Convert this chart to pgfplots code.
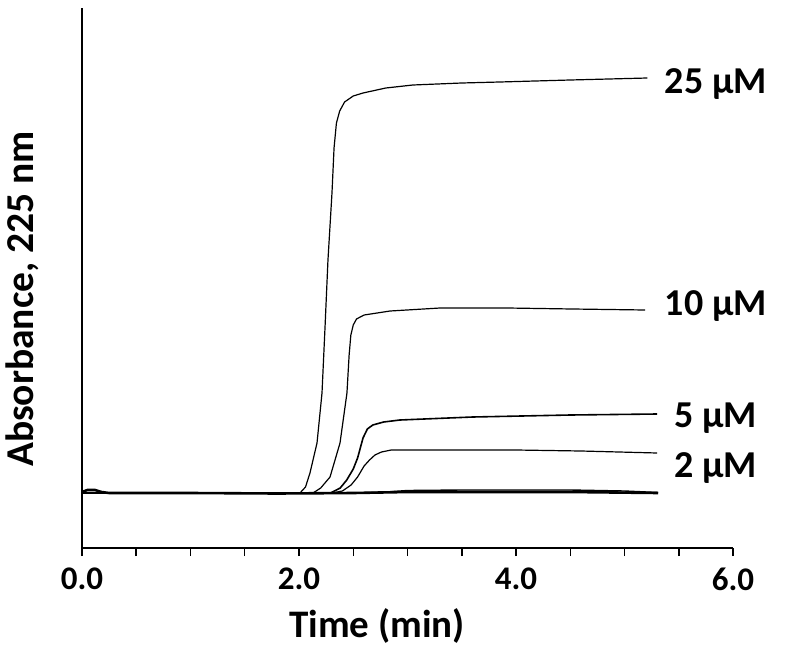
\documentclass[border=0pt]{standalone}
\usepackage{fontspec}
\setmainfont{Carlito}
\usepackage{pgfplots}
\pgfplotsset{compat=1.18}

\begin{document}
\begin{tikzpicture}
\useasboundingbox (-82pt,-109pt) rectangle (718pt,548pt);
\begin{axis}[
  scale only axis, width=651pt, height=540pt,
  xmin=0, xmax=6, ymin=-0.55, ymax=4.85,
  axis x line=bottom, axis y line=left,
  axis line style={line width=2.2pt, -},
  ytick=\empty,
  xtick={0,0.5,...,6},
  xticklabels={0.0,,,,2.0,,,,4.0,,,,6.0},
  xtick align=outside,
  major tick length=8pt,
  every tick/.style={black, line width=1.5pt},
  /pgf/number format/assume math mode=true,
  tick label style={font=\fontsize{33}{36}\selectfont\bfseries},
  xticklabel style={yshift=-8pt},
  xlabel={Time (min)},
  ylabel={Absorbance, 225 nm},
  xlabel style={at={(axis description cs:0.453,-0.165)}, anchor=base,
    font=\fontsize{39}{44}\selectfont\bfseries},
  ylabel style={at={(axis description cs:-0.075,0.461)}, anchor=base,
    font=\fontsize{39.5}{44}\selectfont\bfseries},
  clip=false,
]

% baselines (0 uM traces)
\addplot[black, line width=2.6pt] coordinates {
  (0,0.01) (0.05,0.03) (0.12,0.03) (0.18,0.01) (0.25,0) (1.0,0) (1.8,-0.005)
  (2.5,0) (3.0,0.01) (4.5,0.01) (5.31,0)
};
\addplot[black, line width=1.4pt] coordinates {
  (0,0) (2.5,0) (2.8,0.01) (3.0,0.025) (3.5,0.03) (4.5,0.03) (5.0,0.02) (5.31,0.005)
};

% 25 uM
\addplot[black, line width=1.2pt] coordinates {
  (0,0) (1.9,0) (2.009,0) (2.06,0.06) (2.101,0.20) (2.166,0.50) (2.212,1.00)
  (2.240,1.66) (2.267,2.33) (2.304,3.00) (2.323,3.45) (2.345,3.70) (2.375,3.82)
  (2.42,3.91) (2.50,3.97) (2.59,4.00) (2.80,4.05) (3.05,4.08) (3.50,4.10)
  (3.85,4.11) (4.50,4.13) (5.21,4.15)
};

% 10 uM
\addplot[black, line width=1.2pt] coordinates {
  (0,0) (2.0,0) (2.129,0) (2.20,0.05) (2.286,0.16) (2.378,0.50) (2.442,1.00)
  (2.462,1.38) (2.478,1.58) (2.50,1.68) (2.53,1.74) (2.60,1.78) (2.84,1.82)
  (3.30,1.85) (3.92,1.85) (4.52,1.84) (5.19,1.83)
};

% 5 uM
\addplot[black, line width=1.6pt] coordinates {
  (0,0) (2.2,0) (2.29,0) (2.38,0.05) (2.44,0.13) (2.50,0.24) (2.54,0.35)
  (2.59,0.55) (2.63,0.64) (2.68,0.68) (2.78,0.71) (2.93,0.73) (3.6,0.76)
  (4.5,0.78) (5.30,0.79)
};

% 2 uM
\addplot[black, line width=1.2pt] coordinates {
  (0,0) (2.3,0) (2.40,0.02) (2.48,0.08) (2.54,0.16) (2.60,0.27) (2.65,0.33)
  (2.70,0.38) (2.76,0.41) (2.85,0.43) (3.3,0.43) (4.0,0.43) (4.6,0.42) (5.30,0.40)
};

\node[anchor=base west, font=\fontsize{38}{40}\selectfont\bfseries] at (axis cs:5.34,4.00) {25 µM};
\node[anchor=base west, font=\fontsize{38}{40}\selectfont\bfseries] at (axis cs:5.34,1.78) {10 µM};
\node[anchor=base west, font=\fontsize{38}{40}\selectfont\bfseries] at (axis cs:5.43,0.66) {5 µM};
\node[anchor=base west, font=\fontsize{38}{40}\selectfont\bfseries] at (axis cs:5.43,0.16) {2 µM};
\end{axis}
\end{tikzpicture}
\end{document}
